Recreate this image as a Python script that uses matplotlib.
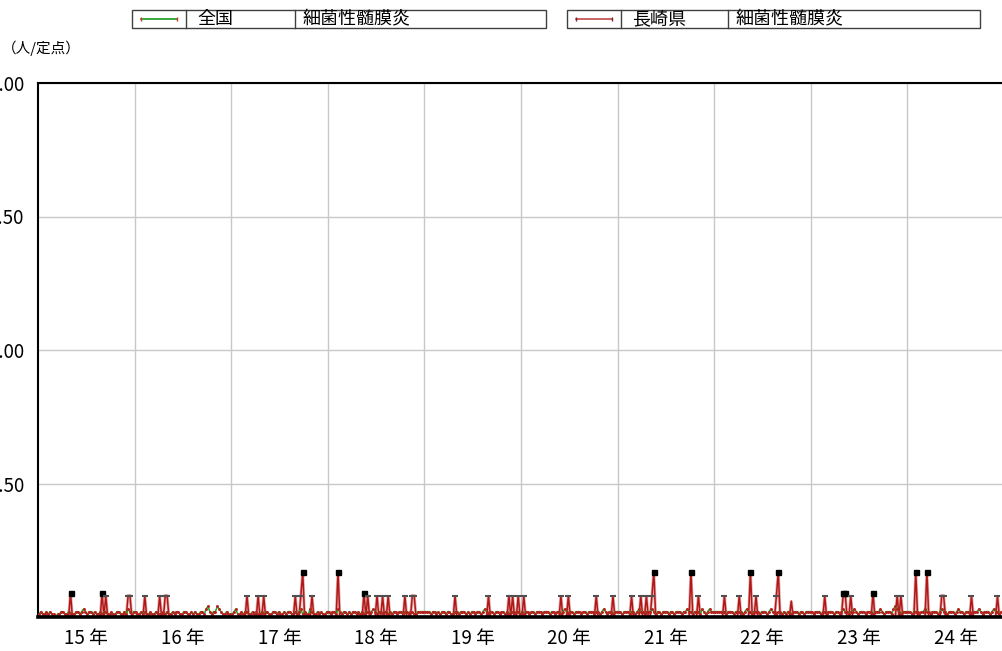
import numpy as np
import matplotlib
matplotlib.use("Agg")
import matplotlib.pyplot as plt
from matplotlib.patches import Rectangle
from matplotlib.lines import Line2D

plt.rcParams['font.family'] = ['Noto Sans CJK JP', 'DejaVu Sans']

# 年（平成）ごとの週別データ
years = [15, 16, 17, 18, 19, 20, 21, 22, 23, 24]
year_labels = ["15 年", "16 年", "17 年", "18 年", "19 年", "20 年", "21 年", "22 年", "23 年", "24 年"]
ytick_values = [0.5, 1.0, 1.5, 2.0]
ytick_labels = ["0.50", "1.00", "1.50", "2.00"]

# 全国（定点当たり, 0.01単位）
national_x100 = [
    [1, 2, 1, 1, 2, 1, 2, 1, 1, 0, 1, 1, 2, 2, 1, 1, 2, 1, 1, 1, 2, 2, 1, 2, 3, 2, 1, 2, 2, 1, 2, 1, 1, 2, 1, 2, 2, 1, 1, 2, 1, 1, 2, 2, 1, 1, 2, 1, 3, 2, 1, 2],
    [2, 1, 1, 2, 1, 2, 1, 1, 2, 1, 1, 2, 1, 1, 1, 2, 1, 2, 1, 1, 2, 1, 2, 2, 1, 1, 2, 2, 1, 1, 2, 1, 2, 1, 1, 2, 2, 1, 3, 4, 2, 1, 2, 2, 4, 3, 2, 1, 1, 2, 1, 1],
    [1, 2, 3, 1, 1, 2, 1, 2, 2, 1, 1, 2, 1, 2, 1, 1, 2, 1, 2, 2, 1, 1, 2, 2, 1, 2, 1, 1, 2, 1, 2, 2, 1, 1, 2, 1, 2, 3, 1, 2, 1, 1, 3, 2, 1, 1, 2, 1, 2, 1, 1, 2],
    [2, 1, 2, 2, 1, 3, 2, 1, 2, 2, 1, 2, 1, 2, 2, 1, 2, 1, 2, 1, 2, 2, 1, 2, 3, 2, 1, 2, 2, 1, 2, 2, 1, 2, 1, 2, 2, 1, 2, 2, 1, 2, 2, 1, 2, 2, 1, 1, 2, 2, 2, 2],
    [2, 2, 2, 1, 2, 2, 1, 2, 1, 2, 2, 1, 2, 2, 1, 1, 2, 2, 1, 2, 2, 2, 1, 2, 1, 2, 2, 1, 2, 2, 1, 2, 3, 2, 1, 2, 2, 1, 2, 2, 1, 2, 2, 1, 2, 1, 2, 2, 1, 2, 2, 1],
    [2, 1, 2, 2, 1, 2, 2, 1, 2, 2, 2, 1, 2, 2, 2, 1, 2, 2, 1, 2, 2, 1, 2, 3, 2, 1, 2, 2, 1, 2, 2, 2, 1, 2, 2, 1, 2, 2, 2, 1, 2, 2, 1, 2, 3, 2, 1, 2, 2, 1, 2, 2],
    [2, 2, 1, 2, 2, 2, 1, 2, 2, 1, 2, 3, 2, 2, 1, 2, 2, 2, 3, 2, 1, 2, 2, 1, 2, 2, 2, 1, 2, 2, 1, 2, 2, 2, 1, 2, 2, 3, 2, 2, 1, 2, 2, 2, 1, 3, 2, 1, 2, 3, 2, 2],
    [2, 2, 2, 2, 2, 2, 1, 2, 2, 2, 1, 2, 2, 2, 2, 1, 2, 3, 2, 2, 1, 2, 2, 2, 1, 2, 2, 2, 1, 2, 3, 2, 2, 1, 2, 2, 1, 2, 1, 2, 2, 1, 2, 2, 2, 1, 2, 2, 1, 2, 2, 2],
    [2, 1, 2, 2, 2, 1, 2, 2, 1, 2, 2, 2, 1, 2, 2, 1, 2, 3, 2, 2, 1, 2, 2, 3, 2, 1, 2, 2, 2, 1, 2, 2, 2, 1, 2, 2, 2, 3, 2, 1, 2, 2, 2, 1, 3, 4, 3, 2, 1, 2, 2, 2],
    [2, 2, 1, 2, 2, 2, 1, 2, 2, 3, 2, 2, 1, 2, 2, 2, 1, 2, 3, 2, 2, 1, 2, 2, 2, 1, 2, 3, 2, 2, 1, 2, 2, 2, 1, 2, 2, 2, 3, 2, 1, 2, 2, 2, 1, 2, 3, 2, 2, 1, 2, 2],
]

# 長崎県（定点当たり）: 報告のあった週のみ、それ以外は 0
nagasaki_year = [15, 15, 15, 15, 15,
                 16, 16, 16, 16,
                 17, 17, 17, 17, 17, 17, 17,
                 18, 18, 18, 18, 18, 18, 18, 18, 18,
                 19, 19, 19, 19, 19,
                 20, 20, 20, 20, 20,
                 21, 21, 21, 21, 21, 21, 21,
                 22, 22, 22, 22, 22, 22, 22,
                 23, 23, 23, 23, 23, 23, 23,
                 24, 24, 24, 24, 24, 24]
nagasaki_week = [17, 34, 36, 48, 49,
                 5, 13, 16, 17,
                 8, 14, 17, 34, 37, 38, 43,
                 5, 19, 21, 26, 29, 32, 41, 45, 46,
                 16, 34, 45, 47, 50,
                 1, 21, 25, 40, 49,
                 7, 12, 15, 18, 19, 39, 43,
                 5, 13, 19, 22, 33, 34, 41,
                 7, 17, 18, 21, 33, 46, 48,
                 4, 10, 18, 19, 34, 48]
nagasaki_value = [0.09, 0.09, 0.08, 0.08, 0.08,
                  0.08, 0.08, 0.08, 0.08,
                  0.08, 0.08, 0.08, 0.08, 0.08, 0.17, 0.08,
                  0.17, 0.09, 0.08, 0.08, 0.08, 0.08, 0.08, 0.08, 0.08,
                  0.08, 0.08, 0.08, 0.08, 0.08,
                  0.08, 0.08, 0.08, 0.08, 0.08,
                  0.08, 0.08, 0.08, 0.08, 0.17, 0.17, 0.08,
                  0.08, 0.08, 0.17, 0.08, 0.08, 0.17, 0.06,
                  0.08, 0.09, 0.09, 0.08, 0.09, 0.08, 0.08,
                  0.17, 0.17, 0.08, 0.08, 0.08, 0.08]

n_weeks = 52
national = np.array(national_x100, dtype=float).ravel() / 100
nagasaki = np.zeros(len(years) * n_weeks)
for y, w, v in zip(nagasaki_year, nagasaki_week, nagasaki_value):
    nagasaki[(y - years[0]) * n_weeks + w] = v
x = years[0] + (np.arange(len(national)) + 0.5) / n_weeks

W, H = 1002, 651
fig = plt.figure(figsize=(W / 100, H / 100), dpi=100)
ax = fig.add_axes([38 / W, 34 / H, 966 / W, 534 / H])

# 線
ax.plot(x, nagasaki, color="#e8b0b0", lw=2.2, zorder=2.6, solid_joinstyle="miter")
ax.plot(x, nagasaki, color="#b01818", lw=1.1, zorder=2.7)
ax.plot(x, national, color="#22a822", lw=1.1, zorder=2.8,
        marker="o", ms=1.1, mfc="#b82020", mec="#b82020")
big = nagasaki >= 0.085
mid = (nagasaki >= 0.07) & (nagasaki < 0.085)
ax.plot(x[big], nagasaki[big], ls="none", marker="s", ms=3.6, color="black", zorder=5)
ax.plot(x[mid], nagasaki[mid], ls="none", marker="_", ms=4, mew=1.5, color="#505050", zorder=5)

ax.set_xlim(years[0], years[-1] + 1)
ax.set_ylim(0, 2.0)

ax.set_xticks(years[1:])
ax.set_xticklabels([])
ax.set_xticks(np.array(years) + 0.5, minor=True)
ax.set_xticklabels(year_labels, minor=True, fontsize=13.5)
ax.set_yticks(ytick_values)
ax.set_yticklabels(ytick_labels, fontsize=13.5)
ax.tick_params(axis="both", which="both", length=0)
ax.tick_params(axis="x", which="minor", pad=8)
ax.tick_params(axis="y", pad=10)
ax.grid(True, which="major", color="#c8c8c8", lw=1)
ax.set_axisbelow(True)

for side in ["left", "top"]:
    ax.spines[side].set_color("black")
    ax.spines[side].set_linewidth(1.5)
ax.spines["bottom"].set_color("black")
ax.spines["bottom"].set_linewidth(2.6)
ax.spines["bottom"].set_zorder(3)
ax.spines["right"].set_visible(False)

fig.text(2 / W, 1 - 48 / H, "（人/定点）", fontsize=10.5, va="center", ha="left")


# 凡例ボックス（ピクセル指定）
def fx(px):
    return px / W


def fy(py):
    return 1 - py / H


def legend_box(left, div1, div2, right, label, name, lcolor, mcolor, mk):
    top, bot = 10, 28
    fig.add_artist(Rectangle((fx(left), fy(bot)), fx(right - left), (bot - top) / H,
                             transform=fig.transFigure, fill=False, ec="#404040", lw=1))
    for d in (div1, div2):
        fig.add_artist(Line2D([fx(d), fx(d)], [fy(top), fy(bot)],
                              transform=fig.transFigure, color="#404040", lw=1))
    fig.add_artist(Line2D([fx(left + 9), fx(left + 45)], [fy(19), fy(19)],
                          transform=fig.transFigure, color=lcolor, lw=1.2,
                          marker=mk, ms=3, mfc=mcolor, mec=mcolor))
    fig.text(fx(div1 + 11), fy(19), label, fontsize=13, va="center", ha="left")
    fig.text(fx(div2 + 7), fy(19), name, fontsize=13, va="center", ha="left")


legend_box(132, 186, 295, 546, "全国", "細菌性髄膜炎", "#1a9a1a", "#d03030", "|")
legend_box(567, 621, 728, 980, "長崎県", "細菌性髄膜炎", "#c04848", "#802020", "|")

fig.savefig("out.png", dpi=100)
